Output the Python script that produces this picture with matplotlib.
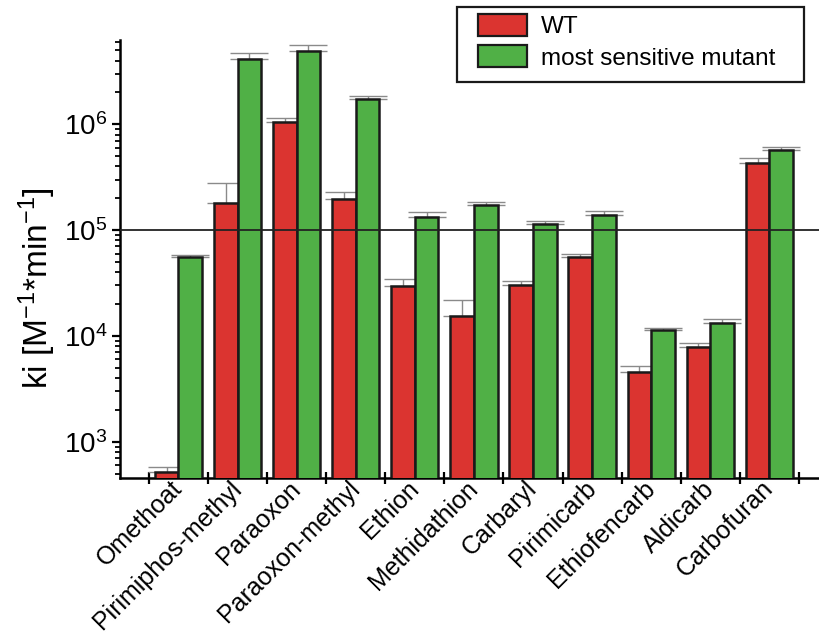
import matplotlib
matplotlib.use("Agg")
import matplotlib.pyplot as plt
import numpy as np
from matplotlib.ticker import LogLocator, NullFormatter, FixedLocator
from matplotlib.patches import Rectangle

plt.rcParams['font.family'] = ['Liberation Sans', 'DejaVu Sans']
plt.rcParams['mathtext.fontset'] = 'custom'
plt.rcParams['mathtext.rm'] = 'Liberation Sans'
plt.rcParams['mathtext.default'] = 'regular'

categories = ["Omethoat", "Pirimiphos-methyl", "Paraoxon", "Paraoxon-methyl", "Ethion",
              "Methidathion", "Carbaryl", "Pirimicarb", "Ethiofencarb", "Aldicarb", "Carbofuran"]
wt_values = [520, 181000, 1045000, 195000, 29800, 15600, 30400, 56000, 4600, 7900, 432000]
wt_upper = [573, 276000, 1140000, 227000, 34700, 21800, 33000, 60000, 5250, 8600, 476000]
mut_values = [56000, 4140000, 4930000, 1750000, 131800, 171000, 114800, 138000, 11300, 13300, 568000]
mut_upper = [58500, 4720000, 5580000, 1840000, 148000, 183000, 122000, 153000, 11900, 14500, 606000]
series_names = ["WT", "most sensitive mutant"]

red = '#DB3430'
green = '#50B046'
edge = '#1a1a1a'

fig = plt.figure(figsize=(8.19, 6.35), dpi=100)
ax = fig.add_axes([120/819, 1-478/635, 1-120/819, (478-40)/635])

x = np.arange(len(categories))
w = 0.4
wt = np.array(wt_values); mu = np.array(mut_values)
ax.bar(x - w/2, wt, w, color=red, edgecolor=edge, linewidth=1.8, zorder=3, label=series_names[0])
ax.bar(x + w/2, mu, w, color=green, edgecolor=edge, linewidth=1.8, zorder=3, label=series_names[1])
ax.errorbar(x - w/2, wt, yerr=[np.zeros_like(wt), np.array(wt_upper) - wt], fmt='none',
            ecolor='#8a8a8a', elinewidth=1.0, capsize=14, capthick=1.0, zorder=2)
ax.errorbar(x + w/2, mu, yerr=[np.zeros_like(mu), np.array(mut_upper) - mu], fmt='none',
            ecolor='#8a8a8a', elinewidth=1.0, capsize=14, capthick=1.0, zorder=2)

ax.axhline(1e5, color='#222222', linewidth=1.3, zorder=4)

ax.set_yscale('log')
ax.set_ylim(455, 6.25e6)
ax.set_xlim(-0.99, 10.84)

ax.yaxis.set_major_locator(FixedLocator([1e3, 1e4, 1e5, 1e6]))
ax.yaxis.set_minor_locator(LogLocator(base=10, subs=np.arange(2, 10)))
ax.yaxis.set_minor_formatter(NullFormatter())
ax.set_yticklabels([r'$10^{3}$', r'$10^{4}$', r'$10^{5}$', r'$10^{6}$'])
ax.tick_params(axis='y', which='major', direction='out', length=6, width=1.6, labelsize=20, pad=3)
ax.tick_params(axis='y', which='minor', direction='out', length=3.5, width=1.3)

ax.set_xticks(x)
ax.set_xticklabels(categories, rotation=45, ha='right', va='center', rotation_mode='anchor', fontsize=18)
ax.set_xticks(np.arange(len(categories) + 1) - 0.5, minor=True)
ax.tick_params(axis='x', which='major', length=0, pad=5)
ax.tick_params(axis='x', which='minor', direction='inout', length=9, width=1.6)

for s in ['top', 'right']:
    ax.spines[s].set_visible(False)
for s in ['left', 'bottom']:
    ax.spines[s].set_linewidth(1.8)

fig.text(37/819, 1-288/635, r'ki [M$^{-1}$*min$^{-1}$]', rotation=90, fontsize=24,
         ha='center', va='center')

leg = ax.legend(loc='upper left', bbox_to_anchor=(478/819, 1-14/635), bbox_transform=fig.transFigure,
                borderaxespad=0, borderpad=0, fontsize=17.5, handlelength=2.0, handleheight=1.0,
                handletextpad=0.58, labelspacing=0.3, frameon=False)
for h in leg.legend_handles:
    h.set_linewidth(1.6)
fig.patches.append(Rectangle((457/819, 1-82/635), (804-457)/819, 75/635, transform=fig.transFigure,
                             fill=False, edgecolor=edge, linewidth=1.6))

fig.savefig('out.png', dpi=100)
